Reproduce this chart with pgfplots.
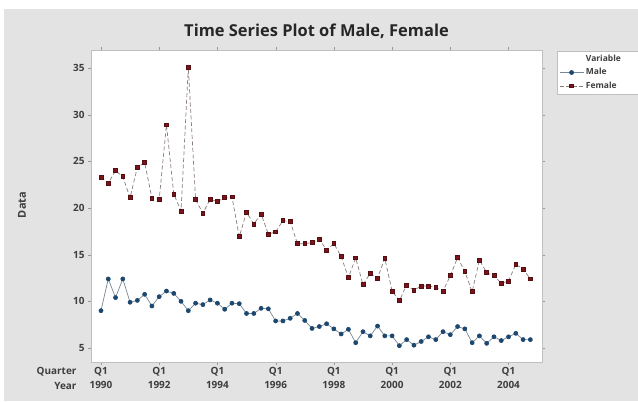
\documentclass[border=0pt]{standalone}
\usepackage{pgfplots}
\pgfplotsset{compat=1.18}
\usepackage{fontspec}
\setmainfont{Open Sans}
\definecolor{bg}{RGB}{227,227,227}
\definecolor{malec}{RGB}{28,72,112}
\definecolor{femc}{RGB}{122,20,26}
\definecolor{malel}{RGB}{120,135,150}
\definecolor{feml}{RGB}{140,125,125}
\definecolor{txt}{RGB}{62,62,62}
\begin{document}
\begin{tikzpicture}[x=1bp,y=1bp]
\fill[white] (0,0) rectangle (638,401);
\fill[bg] (4,0) rectangle (638,392);
\begin{axis}[
  at={(91bp,39bp)}, anchor=south west,
  scale only axis, width=451bp, height=312bp,
  xmin=-1.37, xmax=60.6, ymin=3.5, ymax=36.93,
  axis background/.style={fill=white},
  axis line style={draw=black!25},
  tick align=outside, major tick length=3bp,
  tick style={draw=black!40},
  xtick={0,8,16,24,32,40,48,56},
  xticklabels={Q1\\1990,Q1\\1992,Q1\\1994,Q1\\1996,Q1\\1998,Q1\\2000,Q1\\2002,Q1\\2004},
  xticklabel style={align=center, font=\fontsize{10}{14}\selectfont\bfseries, text=txt, yshift=1bp},
  ytick={5,10,...,35},
  yticklabel style={font=\fontsize{10}{12}\selectfont\bfseries, text=txt},
  /pgf/number format/assume math mode=true,
  title={Time Series Plot of Male, Female},
  title style={font=\fontsize{16.5}{19}\selectfont\bfseries, text=black!85, at={(0.5,1)}, anchor=south, yshift=2bp},
  legend style={at={(1.0333,0.997)}, anchor=north west, draw=black!25, fill=white,
    font=\fontsize{8.5}{10}\selectfont\bfseries, text=txt, inner xsep=2bp, inner ysep=2bp, row sep=1.5bp},
  legend cell align=left,
  legend image code/.code={\draw[mark repeat=2,mark phase=2,#1] plot coordinates {(0bp,0bp) (12bp,0bp) (24bp,0bp)};},
]
\addlegendimage{empty legend}
\addlegendentry{Variable\hspace*{20bp}}
\addplot[color=malel, line width=0.7bp, mark=*, mark size=2bp, mark options={fill=malec, draw=malec, solid}]
coordinates {
(0,9.0)(1,12.4)(2,10.4)(3,12.4)(4,9.9)(5,10.1)(6,10.75)(7,9.5)(8,10.5)(9,11.1)
(10,10.85)(11,10.0)(12,9.0)(13,9.8)(14,9.65)(15,10.15)(16,9.8)(17,9.15)(18,9.8)(19,9.75)
(20,8.7)(21,8.7)(22,9.25)(23,9.2)(24,7.9)(25,7.9)(26,8.18)(27,8.7)(28,7.95)(29,7.1)
(30,7.3)(31,7.6)(32,7.05)(33,6.5)(34,7.0)(35,5.57)(36,6.75)(37,6.3)(38,7.35)(39,6.3)
(40,6.3)(41,5.25)(42,5.9)(43,5.3)(44,5.7)(45,6.2)(46,5.9)(47,6.75)(48,6.43)(49,7.3)
(50,7.05)(51,5.57)(52,6.3)(53,5.5)(54,6.2)(55,5.8)(56,6.2)(57,6.57)(58,5.9)(59,5.9)
};
\addlegendentry{Male}
\addplot[color=feml, line width=0.7bp, dash pattern=on 4bp off 2.5bp, mark=square*, mark size=1.9bp, mark options={fill=femc, draw=femc!70!black, solid}]
coordinates {
(0,23.3)(1,22.65)(2,24.0)(3,23.36)(4,21.1)(5,24.37)(6,24.86)(7,21.07)(8,20.93)(9,28.9)
(10,21.5)(11,19.68)(12,35.08)(13,20.9)(14,19.43)(15,20.93)(16,20.7)(17,21.1)(18,21.2)(19,16.93)
(20,19.54)(21,18.29)(22,19.36)(23,17.2)(24,17.45)(25,18.65)(26,18.54)(27,16.18)(28,16.18)(29,16.29)
(30,16.65)(31,15.5)(32,16.2)(33,14.8)(34,12.54)(35,14.65)(36,11.79)(37,13.0)(38,12.5)(39,14.6)
(40,11.1)(41,10.07)(42,11.75)(43,11.2)(44,11.64)(45,11.64)(46,11.5)(47,11.1)(48,12.75)(49,14.7)
(50,13.18)(51,11.03)(52,14.43)(53,13.07)(54,12.75)(55,11.93)(56,12.18)(57,13.97)(58,13.47)(59,12.4)
};
\addlegendentry{Female}
\end{axis}
\node[anchor=east, font=\fontsize{10}{12}\selectfont\bfseries, text=txt] at (80,29) {Quarter};
\node[anchor=east, font=\fontsize{10}{12}\selectfont\bfseries, text=txt] at (80,15) {Year};
\node[rotate=90, font=\fontsize{11}{13}\selectfont\bfseries, text=txt] at (22,196) {Data};
\pgfresetboundingbox
\path (0,0) rectangle (638,401);
\end{tikzpicture}
\end{document}
